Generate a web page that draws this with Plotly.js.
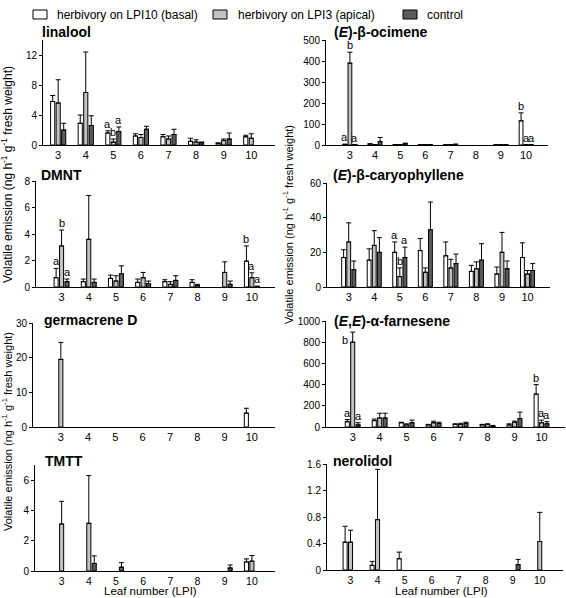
<!DOCTYPE html>
<html><head><meta charset="utf-8">
<script src="https://cdn.plot.ly/plotly-3.0.1.min.js"></script>
<style>html,body{margin:0;padding:0;background:#fff;} #chart{width:566px;height:598px;}</style>
</head><body><div id="chart"></div>
<script>
// ---------------- DATA ----------------
const LPI = [3, 4, 5, 6, 7, 8, 9, 10];
const SERIES = ['herbivory on LPI10 (basal)', 'herbivory on LPI3 (apical)', 'control'];

// linalool
const linalool_basal      = [5.8, 2.9, 1.6, 1.2, 1.1, 0.5, 0.2, 1.1];
const linalool_basal_se   = [0.8, 1.1, 0.3, 0.3, 0.3, 0.4, 0.1, 0.2];
const linalool_apical     = [5.6, 7.0, 0.4, 1.0, 0.8, 0.4, 0.6, 0.9];
const linalool_apical_se  = [3.1, 5.4, 0.4, 0.4, 0.4, 0.3, 0.2, 0.6];
const linalool_control    = [2.0, 2.6, 1.8, 2.1, 1.4, 0.3, 0.8, null];
const linalool_control_se = [0.9, 1.3, 0.6, 0.4, 0.7, 0.1, 0.8, 0];
const linalool_letters    = [['','','a','','','','',''], ['','','b','','','','',''], ['','','a','','','','','']];

// (E)-beta-ocimene
const ocimene_basal      = [3, 5, 2, 1, 0.5, null, 0.5, 115];
const ocimene_basal_se   = [0, 0, 0, 0, 0, 0, 0, 38];
const ocimene_apical     = [390, 1, 1, 1, 1, null, 2, 1];
const ocimene_apical_se  = [52, 0, 0, 0, 0, 0, 0, 0];
const ocimene_control    = [2, 16, 6, 1, 3, null, 1, 1];
const ocimene_control_se = [0, 20, 3, 0, 1, 0, 0, 0];
const ocimene_letters    = [['a','','','','','','','b'], ['b','','','','','','','a'], ['a','','','','','','','a']];

// DMNT
const dmnt_basal      = [0.7, 0.4, 0.65, 0.35, 0.4, 0.35, null, 1.95];
const dmnt_basal_se   = [0.7, 0.2, 0.25, 0.25, 0.15, 0.2, 0, 1.15];
const dmnt_apical     = [3.1, 3.6, 0.45, 0.7, 0.2, 0.1, 1.1, 0.7];
const dmnt_apical_se  = [1.2, 3.3, 0.4, 0.4, 0.2, 0.1, 0.8, 0.37];
const dmnt_control    = [0.4, 0.35, 1.0, 0.25, 0.5, null, 0.2, 0.05];
const dmnt_control_se = [0.2, 0.25, 0.6, 0.2, 0.35, 0, 0.25, 0];
const dmnt_letters    = [['a','','','','','','','b'], ['b','','','','','','','a'], ['a','','','','','','','a']];

// (E)-beta-caryophyllene
const caryo_basal      = [17, 15.5, 20, 21, 18, 9, 7.5, 17];
const caryo_basal_se   = [4.5, 6.5, 6, 7, 8, 3.5, 4, 8.5];
const caryo_apical     = [26, 24, 6, 8.5, 11, 10.5, 20, 7.5];
const caryo_apical_se  = [11, 8.5, 5, 2.5, 5, 4, 11.5, 2];
const caryo_control    = [10, 20, 17, 33, 13.5, 15.5, 10.5, 9.5];
const caryo_control_se = [5, 8.5, 6, 16, 5.5, 9.5, 4.5, 4];
const caryo_letters    = [['','','a','','','','',''], ['','','b','','','','',''], ['','','a','','','','','']];

// germacrene D
const germ_basal      = [null, null, null, null, null, null, null, 4];
const germ_basal_se   = [0, 0, 0, 0, 0, 0, 0, 1.4];
const germ_apical     = [19.5, null, null, null, null, null, null, null];
const germ_apical_se  = [4.9, 0, 0, 0, 0, 0, 0, 0];
const germ_control    = [null, null, null, null, null, null, null, null];
const germ_control_se = [0, 0, 0, 0, 0, 0, 0, 0];
const germ_letters    = [['','','','','','','',''], ['','','','','','','',''], ['','','','','','','','']];

// (E,E)-alpha-farnesene
const farn_basal      = [50, 60, 40, 20, 25, 20, 20, 310];
const farn_basal_se   = [20, 15, 5, 5, 5, 5, 10, 90];
const farn_apical     = [800, 85, 20, 40, 25, 25, 45, 40];
const farn_apical_se  = [95, 45, 10, 15, 10, 5, 10, 25];
const farn_control    = [20, 85, 40, 35, 35, 10, 80, 30];
const farn_control_se = [20, 45, 25, 10, 10, 5, 60, 20];
const farn_letters    = [['a','','','','','','','b'], ['b','','','','','','','a'], ['a','','','','','','','a']];

// TMTT
const tmtt_basal      = [null, null, null, null, null, null, null, 0.6];
const tmtt_basal_se   = [0, 0, 0, 0, 0, 0, 0, 0.2];
const tmtt_apical     = [3.1, 3.15, null, null, null, null, null, 0.65];
const tmtt_apical_se  = [1.5, 3.15, 0, 0, 0, 0, 0, 0.37];
const tmtt_control    = [null, 0.5, 0.25, null, null, null, 0.2, null];
const tmtt_control_se = [0, 0.5, 0.3, 0, 0, 0, 0.2, 0];
const tmtt_letters    = [['','','','','','','',''], ['','','','','','','',''], ['','','','','','','','']];

// nerolidol
const nero_basal      = [0.42, 0.07, 0.17, null, null, null, null, null];
const nero_basal_se   = [0.24, 0.06, 0.1, 0, 0, 0, 0, 0];
const nero_apical     = [0.42, 0.76, null, null, null, null, null, 0.43];
const nero_apical_se  = [0.18, 0.76, 0, 0, 0, 0, 0, 0.44];
const nero_control    = [null, null, null, null, null, null, 0.08, null];
const nero_control_se = [0, 0, 0, 0, 0, 0, 0.08, 0];
const nero_letters    = [['','','','','','','',''], ['','','','','','','',''], ['','','','','','','','']];

// ---------------- LAYOUT / STYLE ----------------
const W = 566, H = 598;
const px = x => x / W, py = y => 1 - y / H;
const COLORS = ['#ffffff', '#c2c2c2', '#5c5c5c'];
const FONT = 'Liberation Sans, Arial, Helvetica, sans-serif';
const BARGAP = 0.4;
const SLOT = (1 - BARGAP) / 3;

const panels = [
  {title:'<b>linalool</b>', vals:[linalool_basal, linalool_apical, linalool_control], errs:[linalool_basal_se, linalool_apical_se, linalool_control_se], letters:linalool_letters,
   xpx:[43,275], ypx:[40,145], xr:[2.45,10.86], yr:[0,14], dtick:4, tpos:[40,32]},
  {title:'<b>(<i>E</i>)-β-ocimene</b>', vals:[ocimene_basal, ocimene_apical, ocimene_control], errs:[ocimene_basal_se, ocimene_apical_se, ocimene_control_se], letters:ocimene_letters,
   xpx:[326,548], ypx:[40,145], xr:[2.05,10.87], yr:[0,500], dtick:100, tpos:[332,32]},
  {title:'<b>DMNT</b>', vals:[dmnt_basal, dmnt_apical, dmnt_control], errs:[dmnt_basal_se, dmnt_apical_se, dmnt_control_se], letters:dmnt_letters,
   xpx:[36,275], ypx:[181,287], xr:[2.06,10.85], yr:[0,8], dtick:2, tpos:[39,175]},
  {title:'<b>(<i>E</i>)-β-caryophyllene</b>', vals:[caryo_basal, caryo_apical, caryo_control], errs:[caryo_basal_se, caryo_apical_se, caryo_control_se], letters:caryo_letters,
   xpx:[327,550], ypx:[183,287], xr:[2.15,10.88], yr:[0,60], dtick:20, tpos:[331,175]},
  {title:'<b>germacrene D</b>', vals:[germ_basal, germ_apical, germ_control], errs:[germ_basal_se, germ_apical_se, germ_control_se], letters:germ_letters,
   xpx:[33,275], ypx:[323,427], xr:[1.98,10.85], yr:[0,30], dtick:10, tpos:[42,320]},
  {title:'<b>(<i>E</i>,<i>E</i>)-α-farnesene</b>', vals:[farn_basal, farn_apical, farn_control], errs:[farn_basal_se, farn_apical_se, farn_control_se], letters:farn_letters,
   xpx:[326,565], ypx:[321,427], xr:[2.01,10.87], yr:[0,1000], dtick:200, tpos:[332,321]},
  {title:'<b>TMTT</b>', vals:[tmtt_basal, tmtt_apical, tmtt_control], errs:[tmtt_basal_se, tmtt_apical_se, tmtt_control_se], letters:tmtt_letters,
   xpx:[35,275], ypx:[465,571], xr:[2.02,10.85], yr:[0,7], dtick:2, tpos:[43,461]},
  {title:'<b>nerolidol</b>', vals:[nero_basal, nero_apical, nero_control], errs:[nero_basal_se, nero_apical_se, nero_control_se], letters:nero_letters,
   xpx:[327,563], ypx:[464,570], xr:[2.13,10.86], yr:[0,1.6], dtick:0.4, tpos:[331,461]}
];

// legend placement (pixels): swatch left edges and text starts
const LEG_SWATCH_X = [33, 213, 403];
const LEG_TEXT_X = [55, 236, 425];

const traces = [];
const annotations = [];
const shapes = [];
const layout = {
  width: W, height: H,
  margin: {l:0, r:0, t:0, b:0},
  paper_bgcolor: '#fff', plot_bgcolor: 'rgba(0,0,0,0)',
  font: {family: FONT, color: '#000', size: 11},
  barmode: 'group', bargap: BARGAP, bargroupgap: 0.25,
  showlegend: false,
  hovermode: false
};

panels.forEach((p, i) => {
  const id = i === 0 ? '' : String(i + 1);
  const bottomRow = i >= 6;
  for (let s = 0; s < 3; s++) {
    traces.push({
      type: 'bar', x: LPI, y: p.vals[s], name: SERIES[s],
      xaxis: 'x' + id, yaxis: 'y' + id,
      marker: {color: COLORS[s], line: {color: '#000', width: 1}},
      error_y: {type: 'data', symmetric: false, array: p.errs[s], arrayminus: p.errs[s].map(() => 0),
                color: '#000', thickness: 1, width: 2.5},
      hoverinfo: 'skip'
    });
    p.letters[s].forEach((t, j) => {
      if (!t) return;
      const top = (p.vals[s][j] || 0) + (p.errs[s][j] || 0);
      const xc = LPI[j] + (s - 1) * SLOT;
      const crowded = top > 0.89 * p.yr[1];   // no room above: put letter beside the bar
      annotations.push({
        xref: 'x' + id, yref: 'y' + id,
        x: crowded ? xc - SLOT * 0.45 : xc, y: top,
        text: t, showarrow: false,
        xanchor: crowded ? 'right' : 'center', yanchor: crowded ? 'top' : 'bottom',
        font: {size: 11, color: '#000000'}, yshift: crowded ? 0 : -1
      });
    });
  }
  layout['xaxis' + id] = {
    domain: [px(p.xpx[0]), px(p.xpx[1])], range: p.xr, anchor: 'y' + id,
    showline: true, linecolor: '#000', linewidth: 1, ticks: '', tickvals: LPI,
    tickfont: {size: bottomRow ? 10.5 : 11, color: '#000'}, showgrid: false, zeroline: false, fixedrange: true
  };
  layout['yaxis' + id] = {
    domain: [py(p.ypx[1]), py(p.ypx[0])], range: p.yr, anchor: 'x' + id,
    showline: true, linecolor: '#000', linewidth: 1, ticks: 'outside', ticklen: 3, tickwidth: 1, tickcolor: '#000',
    tick0: 0, dtick: p.dtick, tickfont: {size: 10, color: '#000'}, showgrid: false, zeroline: false, fixedrange: true
  };
  annotations.push({
    xref: 'paper', yref: 'paper', x: px(p.tpos[0]), y: py(p.tpos[1]), text: p.title,
    showarrow: false, xanchor: 'left', yanchor: 'middle', font: {size: 14, color: '#000'}
  });
});

// legend: swatches + labels
SERIES.forEach((name, s) => {
  shapes.push({type:'rect', xref:'paper', yref:'paper',
    x0: px(LEG_SWATCH_X[s]), x1: px(LEG_SWATCH_X[s] + 14), y0: py(19), y1: py(10),
    fillcolor: COLORS[s], line: {color:'#000', width:1}});
  annotations.push({xref:'paper', yref:'paper', x: px(LEG_TEXT_X[s]), y: py(14.5), text: name,
    showarrow:false, xanchor:'left', yanchor:'middle', font:{size:12, color:'#000'}});
});

const YTITLE = 'Volatile emission (ng h<sup>-1</sup> g<sup>-1</sup> fresh weight)';
annotations.push({xref:'paper', yref:'paper', x:px(7), y:py(175), text:YTITLE, textangle:-90, showarrow:false, xanchor:'center', yanchor:'middle', font:{size:12, color:'#000'}});
annotations.push({xref:'paper', yref:'paper', x:px(7), y:py(432), text:YTITLE, textangle:-90, showarrow:false, xanchor:'center', yanchor:'middle', font:{size:11, color:'#000'}});
annotations.push({xref:'paper', yref:'paper', x:px(288), y:py(225), text:YTITLE, textangle:-90, showarrow:false, xanchor:'center', yanchor:'middle', font:{size:11, color:'#000'}});
annotations.push({xref:'paper', yref:'paper', x:px(150), y:py(598), text:'Leaf number (LPI)', showarrow:false, xanchor:'center', yanchor:'bottom', borderpad:0, font:{size:11.5, color:'#000'}});
annotations.push({xref:'paper', yref:'paper', x:px(441), y:py(598), text:'Leaf number (LPI)', showarrow:false, xanchor:'center', yanchor:'bottom', borderpad:0, font:{size:11.5, color:'#000'}});
layout.annotations = annotations;
layout.shapes = shapes;

Plotly.newPlot('chart', traces, layout, {staticPlot: true, displayModeBar: false});
</script>
</body></html>
